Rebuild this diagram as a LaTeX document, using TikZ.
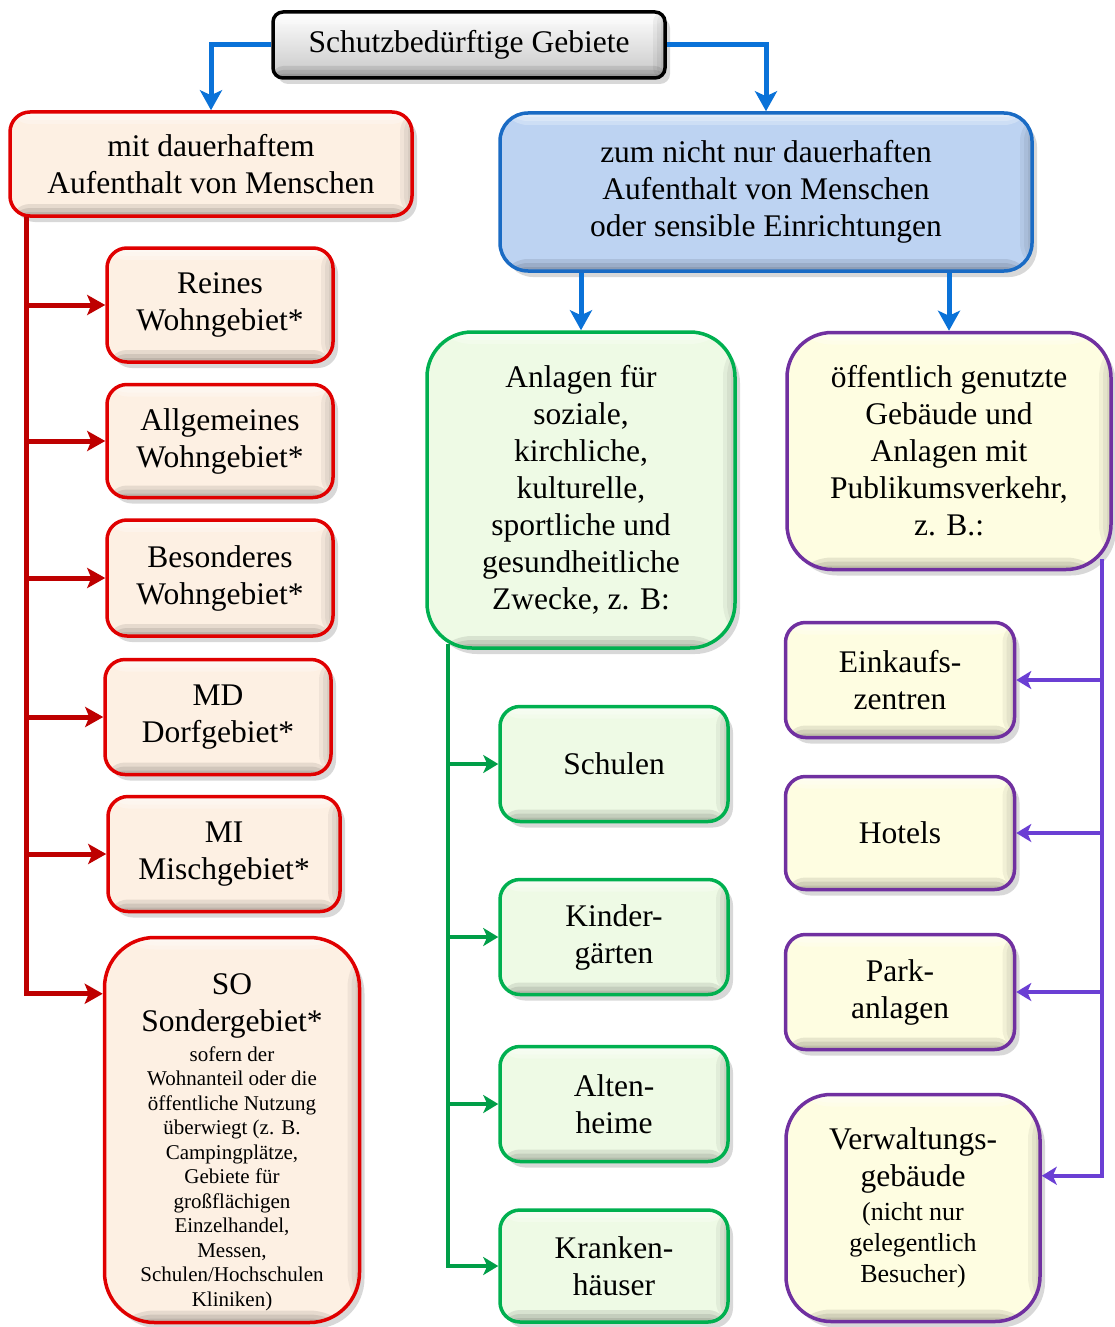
\documentclass[tikz,border=0pt]{standalone}
\usepackage{fontspec}
\setmainfont{Liberation Serif}
\usetikzlibrary{arrows.meta}
\usetikzlibrary{shadows}
\definecolor{myred}{HTML}{E00000}
\definecolor{myredfill}{HTML}{FDF0E3}
\definecolor{myblue}{HTML}{1A6BC4}
\definecolor{mybluefill}{HTML}{BDD3F2}
\definecolor{myarrowblue}{HTML}{0A72D8}
\definecolor{mygreen}{HTML}{00B050}
\definecolor{mygreenfill}{HTML}{EEFAE5}
\definecolor{mypurple}{HTML}{7030A0}
\definecolor{mypurplefill}{HTML}{FEFDE1}
\definecolor{myarrowpurple}{HTML}{6B3FD4}
\newcommand\bigtxt{\fontsize{31.5}{37}\selectfont}
\newcommand\midtxt{\fontsize{26}{31}\selectfont}
\newcommand\smalltxt{\fontsize{21}{24.5}\selectfont}
\tikzset{
  bevel/.style={path picture={
    \foreach \d in {4,8,12}{
      \fill[white,opacity=.25] (path picture bounding box.north west) rectangle ([yshift=-\d pt]path picture bounding box.north east);
      \fill[black,opacity=.05] ([xshift=-\d pt]path picture bounding box.north east) rectangle (path picture bounding box.south east);
      \fill[black,opacity=.09] ([yshift=\d pt]path picture bounding box.south west) rectangle (path picture bounding box.south east);
    }
  }},
  box/.style={draw,line width=3.5pt,align=flush center,font=\bigtxt,inner sep=4pt,
    drop shadow={shadow xshift=5pt,shadow yshift=-6pt,opacity=.3},bevel},
  redbox/.style={box,draw=myred,fill=myredfill,rounded corners=20pt},
  greenbox/.style={box,draw=mygreen,fill=mygreenfill,rounded corners=20pt},
  purplebox/.style={box,draw=mypurple,fill=mypurplefill,rounded corners=20pt},
  redline/.style={draw=myred!85!black,line width=5pt,->},
  blueline/.style={draw=myarrowblue,line width=5pt,->,>={Stealth[length=20pt,width=22pt,inset=5pt]}},
  greenline/.style={draw=mygreen!90!black,line width=4pt,->,>={Stealth[length=15pt,width=18pt,inset=4pt]}},
  purpleline/.style={draw=myarrowpurple,line width=4pt,->,>={Stealth[length=15pt,width=18pt,inset=4pt]}}
}
\begin{document}
\begin{tikzpicture}[x=1pt,y=-1pt,>={Stealth[length=18pt,width=20pt,inset=4pt]}]
\useasboundingbox[fill=white] (0,0) rectangle (1114,1327);

% top
\node[box,draw=black,top color=white,bottom color=black!22,rounded corners=10pt,
  minimum width=392,minimum height=66] (top) at (469,45) {Schutzbedürftige Gebiete};

% first level
\node[redbox,minimum width=402,minimum height=104,text width=386] (dauer) at (211,164)
  {mit dauerhaftem\\ Aufenthalt von Menschen};
\node[box,draw=myblue,fill=mybluefill,rounded corners=28pt,minimum width=532,minimum height=158,text width=516] (nicht) at (766,192)
  {zum nicht nur dauerhaften\\ Aufenthalt von Menschen\\ oder sensible Einrichtungen};

% red column
\node[redbox,minimum width=226,minimum height=114,text width=210] (reines) at (220,305) {Reines\\ Wohngebiet*};
\node[redbox,minimum width=226,minimum height=113,text width=210] (allg) at (220,441) {Allgemeines\\ Wohngebiet*};
\node[redbox,minimum width=226,minimum height=116,text width=210] (bes) at (220,578) {Besonderes\\ Wohngebiet*};
\node[redbox,minimum width=226,minimum height=115,text width=210] (md) at (218,717) {MD\\ Dorfgebiet*};
\node[redbox,minimum width=232,minimum height=115,text width=216] (mi) at (224,854) {MI\\ Mischgebiet*};
\node[redbox,rounded corners=50pt,minimum width=255,minimum height=385,text width=239] (so) at (232,1130)
  {\vskip8pt SO\\ Sondergebiet*\par\vskip5pt
   \smalltxt sofern der\\ Wohnanteil oder die\\ öffentliche Nutzung\\ überwiegt (z. B.\\ Campingplätze,\\
   Gebiete für\\ großflächigen\\ Einzelhandel,\\ Messen,\\ Schulen/Hochschulen\\ Kliniken)\par};

% green column
\node[greenbox,rounded corners=45pt,minimum width=308,minimum height=316,text width=292] (anlagen) at (581,490)
  {Anlagen für\\ soziale,\\ kirchliche,\\ kulturelle,\\ sportliche und\\ gesundheitliche\\ Zwecke, z. B:};
\node[greenbox,minimum width=228,minimum height=115,text width=212] (schulen) at (614,764) {Schulen};
\node[greenbox,minimum width=228,minimum height=115,text width=212] (kinder) at (614,937) {Kinder-\\ gärten};
\node[greenbox,minimum width=228,minimum height=115,text width=212] (alten) at (614,1104) {Alten-\\ heime};
\node[greenbox,minimum width=228,minimum height=112,text width=212] (kranken) at (614,1266) {Kranken-\\ häuser};

% purple column
\node[purplebox,rounded corners=45pt,minimum width=324,minimum height=237,text width=308] (oeff) at (949,451)
  {öffentlich genutzte\\ Gebäude und\\ Anlagen mit\\ Publikumsverkehr,\\ z. B.:};
\node[purplebox,minimum width=229,minimum height=115,text width=213] (einkauf) at (900,680) {Einkaufs-\\ zentren};
\node[purplebox,minimum width=229,minimum height=113,text width=213] (hotels) at (900,833) {Hotels};
\node[purplebox,minimum width=229,minimum height=115,text width=213] (park) at (900,992) {Park-\\ anlagen};
\node[purplebox,rounded corners=45pt,minimum width=254,minimum height=227,text width=238] (verw) at (913,1208)
  {Verwaltungs-\\ gebäude\par\vskip3pt
   \midtxt (nicht nur\\ gelegentlich\\ Besucher)\par};

% connectors
\draw[blueline] (top.west) -| (dauer.north);
\draw[blueline] (top.east) -| (nicht.north);
\draw[blueline] (nicht.south -| anlagen.north) -- (anlagen.north);
\draw[blueline] (nicht.south -| oeff.north) -- (oeff.north);

\coordinate (rtop) at ([xshift=18pt,yshift=1pt]dauer.south west);
\foreach \n in {reines,allg,bes,md,mi}
  \draw[redline] (rtop) |- (\n.west);
\draw[redline] (rtop) |- ([yshift=-58pt]so.north west);

\coordinate (gtop) at ([xshift=23pt,yshift=6pt]anlagen.south west);
\foreach \n in {schulen,kinder,alten,kranken}
  \draw[greenline] (gtop) |- (\n.west);

\coordinate (ptop) at ([xshift=-11pt,yshift=12pt]oeff.south east);
\foreach \n in {einkauf,hotels,park}
  \draw[purpleline] (ptop) |- (\n.east);
\draw[purpleline] (ptop) |- ([yshift=-83pt]verw.north east);
\end{tikzpicture}
\end{document}
